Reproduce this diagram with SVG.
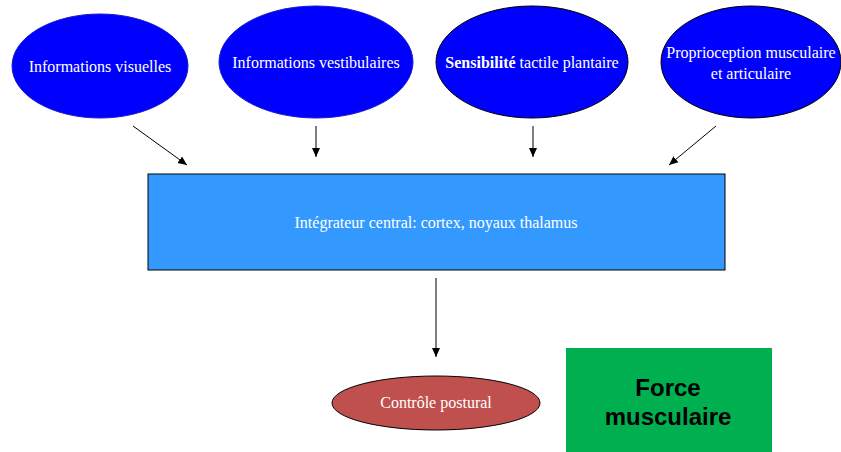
<svg xmlns="http://www.w3.org/2000/svg" width="841" height="452" viewBox="0 0 841 452">
<defs>
<style>
.lbl{font-family:"Liberation Serif","Times New Roman",serif;font-size:16px;fill:#ffffff;text-anchor:middle}
.conn{stroke:#000;stroke-width:1;fill:none;marker-end:url(#ah)}
.blue{fill:#0000ff}
</style>
<marker id="ah" markerWidth="10" markerHeight="10" refX="9" refY="5" orient="auto" markerUnits="userSpaceOnUse">
<path d="M0,1 L9,5 L0,9 Z" fill="#000"/>
</marker>
</defs>
<rect width="841" height="452" fill="#fff"/>
<g id="n1"><ellipse class="blue" cx="100" cy="66" rx="88" ry="52" stroke="#1a1acc" stroke-width="1"/><text class="lbl" x="100" y="72">Informations visuelles</text></g>
<g id="n2"><ellipse class="blue" cx="316" cy="62" rx="97" ry="56" stroke="#1a1acc" stroke-width="1"/><text class="lbl" x="316" y="68">Informations vestibulaires</text></g>
<g id="n3"><ellipse class="blue" cx="532" cy="62" rx="96" ry="56" stroke="#000" stroke-width="1"/><text class="lbl" x="532" y="68"><tspan font-weight="bold">Sensibilité</tspan> tactile plantaire</text></g>
<g id="n4"><ellipse class="blue" cx="751" cy="62" rx="90" ry="56" stroke="#000" stroke-width="1"/><text class="lbl" x="751" y="58">Proprioception musculaire</text><text class="lbl" x="751" y="79">et articulaire</text></g>
<g id="n5"><rect x="148" y="174" width="577" height="96" fill="#3399ff" stroke="#000" stroke-width="1"/><text class="lbl" x="436" y="228">Intégrateur central: cortex, noyaux thalamus</text></g>
<g id="n6"><ellipse cx="436" cy="403" rx="104" ry="27" fill="#c0504d" stroke="#000" stroke-width="1"/><text class="lbl" x="436" y="408">Contrôle postural</text></g>
<g id="n7"><rect x="566" y="348" width="206" height="110" fill="#00b050"/><text x="668" y="396" font-family="Liberation Sans,Arial,sans-serif" font-size="24" font-weight="bold" text-anchor="middle" fill="#000">Force</text><text x="668" y="425" font-family="Liberation Sans,Arial,sans-serif" font-size="24" font-weight="bold" text-anchor="middle" fill="#000">musculaire</text></g>
<g id="connectors">
<line class="conn" x1="133" y1="126" x2="187" y2="165"/>
<line class="conn" x1="316" y1="126" x2="316" y2="157"/>
<line class="conn" x1="533" y1="126" x2="533" y2="157"/>
<line class="conn" x1="716" y1="126" x2="669" y2="165"/>
<line class="conn" x1="436" y1="278" x2="436" y2="357"/>
</g>
</svg>
